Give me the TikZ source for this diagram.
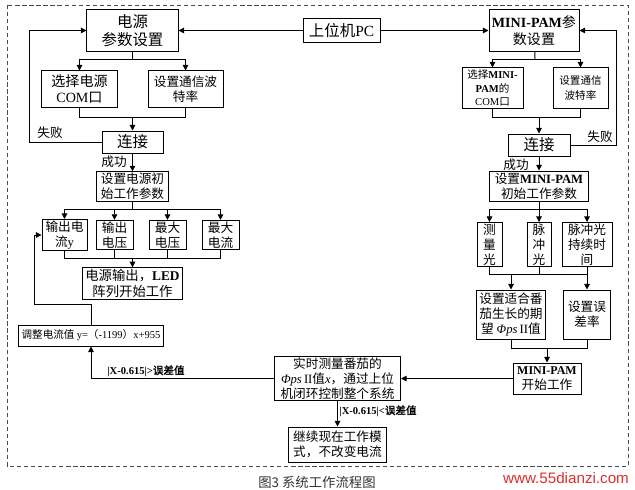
\documentclass[tikz,border=0pt]{standalone}
\usepackage{fontspec}
\setmainfont{Noto Sans CJK SC}[AutoFakeBold=2]
\newfontfamily\latin{Liberation Serif}
\newfontfamily\webfont{Liberation Sans}
\newcommand{\en}[1]{{\latin #1}}
\usepackage{tikz}
\usetikzlibrary{arrows.meta}
\definecolor{markred}{RGB}{225,45,45}

\begin{document}
\begin{tikzpicture}[x=0.025cm, y=-0.025cm,
    box/.style={rectangle, draw, line width=0.7pt, align=center, inner sep=1pt, font=\fontsize{9}{10.5}\selectfont},
    bigbox/.style={box, font=\fontsize{11}{13}\selectfont},
    midbox/.style={box, font=\fontsize{10}{12}\selectfont},
    smallbox/.style={box, font=\fontsize{7.5}{9.5}\selectfont},
    link/.style={line width=0.7pt},
    arr/.style={link, -{Triangle[width=4pt,length=4pt]}},
    note/.style={font=\fontsize{9}{10}\selectfont},
    cond/.style={font=\fontsize{7.5}{9}\selectfont\bfseries}
]

% one unit = one pixel of the sketch
\useasboundingbox (0,0) rectangle (635,490);

% Frame
\draw[black!70, line width=0.5pt, dash pattern=on 3pt off 2pt] (7,5) rectangle (628,466);

% Host PC
\node[bigbox, minimum width=1.925cm, minimum height=0.575cm] (pc) at (341.5,30.5) {上位机\en{PC}};

% Power supply side
\node[bigbox, minimum width=2.275cm, minimum height=1.025cm] (psu) at (132.5,30.5) {电源\\参数设置};
\node[midbox, minimum width=1.875cm, minimum height=0.9cm] (psucom) at (79.5,89) {选择电源\\\en{COM}口};
\node[box, minimum width=1.875cm, minimum height=0.9cm] (psubaud) at (185.5,89) {设置通信波\\特率};
\node[bigbox, minimum width=1.525cm, minimum height=0.55cm] (psucon) at (132.5,142) {连接};
\node[box, minimum width=1.8cm, minimum height=0.725cm] (psuinit) at (132.5,186.5) {设置电源初\\始工作参数};

% Power supply parameters
\node[box, minimum width=1.125cm, minimum height=0.7cm] (outI) at (64.5,235) {输出电\\流\en{y}};
\node[box, minimum width=0.925cm, minimum height=0.7cm] (outV) at (114.5,235) {输出\\电压};
\node[box, minimum width=0.925cm, minimum height=0.7cm] (maxV) at (167.5,235) {最大\\电压};
\node[box, minimum width=0.925cm, minimum height=0.7cm] (maxI) at (220.5,235) {最大\\电流};
\node[box, font=\fontsize{9.5}{11.5}\selectfont, minimum width=2.5cm, minimum height=0.725cm] (led) at (132.5,283.5) {电源输出，\en{\bfseries LED}\\阵列开始工作};
\node[smallbox, minimum width=3.625cm, minimum height=0.525cm] (adjust) at (91,335.5) {调整电流值 \en{y=}（\en{-1199}）\en{x+955}};

% MINI-PAM side
\node[midbox, minimum width=2.25cm, minimum height=1.025cm] (pam) at (534,30.5) {\en{\bfseries MINI-PAM}参\\数设置};
\node[smallbox, minimum width=1.525cm, minimum height=1cm] (pamcom) at (492.5,88) {选择\en{\bfseries MINI-}\\\en{\bfseries PAM}的\\\en{COM}口};
\node[box, font=\fontsize{7.5}{10}\selectfont, minimum width=1.375cm, minimum height=1cm] (pambaud) at (580.5,88) {设置通信\\波特率};
\node[bigbox, minimum width=1.55cm, minimum height=0.55cm] (pamcon) at (539,145) {连接};
\node[box, minimum width=2.475cm, minimum height=0.75cm] (paminit) at (539,186) {设置\en{\bfseries MINI-PAM}\\初始工作参数};

% MINI-PAM parameters
\node[box, minimum width=0.625cm, minimum height=1.025cm] (meas) at (489.5,244.5) {测\\量\\光};
\node[box, minimum width=0.6cm, minimum height=1.025cm] (pulse) at (539,244.5) {脉\\冲\\光};
\node[box, minimum width=1.25cm, minimum height=1.025cm] (dur) at (587,244.5) {脉冲光\\持续时\\间};
\node[box, minimum width=1.725cm, minimum height=1.225cm] (target) at (511,314.5) {设置适合番\\茄生长的期\\望 \en{\textit{Φps}\,II}值};
\node[box, minimum width=1.175cm, minimum height=1.225cm] (err) at (587,314.5) {设置误\\差率};
\node[box, minimum width=1.7cm, minimum height=0.775cm] (pamstart) at (547,378.5) {\en{\bfseries\fontsize{8.5}{10}\selectfont MINI-PAM}\\开始工作};

% Closed loop
\node[box, minimum width=3.15cm, minimum height=1.1cm] (rt) at (337.5,378.5) {实时测量番茄的\\\en{\textit{Φps}\,II}值\en{\textit{x}}，通过上位\\机闭环控制整个系统};
\node[box, minimum width=2.45cm, minimum height=0.875cm] (cont) at (337.5,444.5) {继续现在工作模\\式，不改变电流};

% PC to both sides
\draw[arr] (pc) -- (psu);
\draw[arr] (pc) -- (pam);

% Power supply flow
\coordinate (s1) at (132.5,59);
\coordinate (m1) at (132.5,117);
\coordinate (f1) at (29,142);
\draw[link] (psu) -- (s1);
\draw[arr] (s1) -| (psucom);
\draw[arr] (s1) -| (psubaud);
\draw[link] (psucom) |- (m1);
\draw[link] (psubaud) |- (m1);
\draw[arr] (m1) -- (psucon);
\draw[arr] (psucon) -- (f1) |- (psu);
\node[note] (fail1) at (50,133) {失败};
\draw[arr] (psucon) -- (psuinit);
\node[note] (ok1) at (114,162) {成功};

\coordinate (s2) at (132.5,209);
\coordinate (m2) at (132.5,258);
\draw[link] (psuinit) -- (s2);
\draw[arr] (s2) -| (outI);
\draw[arr] (s2) -| (outV);
\draw[arr] (s2) -| (maxV);
\draw[arr] (s2) -| (maxI);
\draw[link] (outI) |- (m2);
\draw[link] (outV) |- (m2);
\draw[link] (maxV) |- (m2);
\draw[link] (maxI) |- (m2);
\draw[arr] (m2) -- (led);

% Current adjustment back to the output current
\coordinate (up1) at (34,304);
\draw[arr] (adjust) |- (up1) |- (outI);

% MINI-PAM flow
\coordinate (s3) at (535,59);
\coordinate (m3) at (539,117);
\coordinate (f2) at (616,145);
\draw[link] (pam) -- (s3);
\draw[arr] (s3) -| (pamcom);
\draw[arr] (s3) -| (pambaud);
\draw[link] (pamcom) |- (m3);
\draw[link] (pambaud) |- (m3);
\draw[arr] (m3) -- (pamcon);
\draw[arr] (pamcon) -- (f2) |- (pam);
\node[note] (fail2) at (600,137) {失败};
\draw[arr] (pamcon) -- (paminit);
\node[note] (ok2) at (516,165) {成功};

\coordinate (s4) at (539,209);
\draw[link] (paminit) -- (s4);
\draw[arr] (s4) -| (meas);
\draw[arr] (s4) -- (pulse);
\draw[arr] (s4) -| (dur);

\coordinate (m4a) at (511,274);
\coordinate (m4b) at (587,274);
\coordinate (m4c) at (539,274);
\draw[link] (meas) |- (m4b);
\draw[link] (pulse) -- (m4c);
\draw[arr] (m4a) -- (target);
\draw[arr] (dur) -- (err);

\coordinate (m5) at (547,348);
\draw[link] (target) |- (m5);
\draw[link] (err) |- (m5);
\draw[arr] (m5) -- (pamstart);

% Closed loop decisions
\draw[arr] (pamstart) -- (rt);
\draw[arr] (rt) -| (adjust);
\node[cond] (gt) at (146,371) {\en{|X-0.615|>}误差值};
\draw[arr] (rt) -- (cont);
\node[cond] (lt) at (378,411) {\en{|X-0.615|<}误差值};

% Caption and mark
\node[font=\fontsize{9.5}{11}\selectfont, text=black!80] (cap) at (317,482) {图3~系统工作流程图};
\node[font=\webfont\fontsize{10.8}{12}\selectfont, text=markred] (web) at (566,478) {www.55dianzi.com};

\end{tikzpicture}
\end{document}
